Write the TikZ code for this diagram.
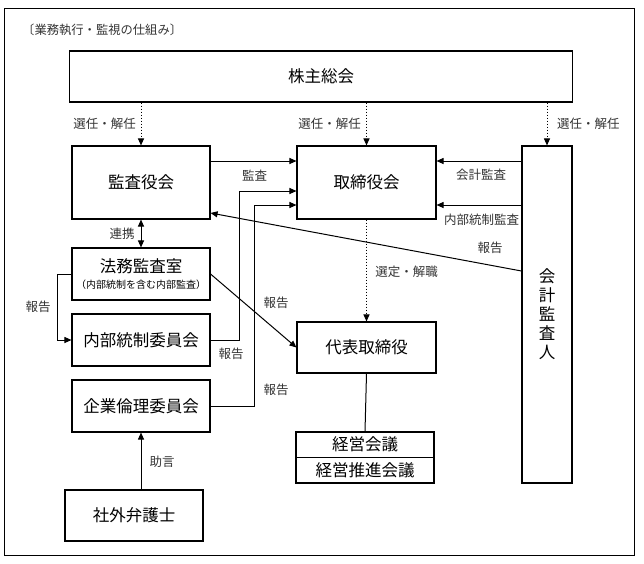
\documentclass[tikz,border=0pt]{standalone}
\usepackage{fontspec}
\setmainfont{Noto Sans CJK JP}
\usetikzlibrary{arrows.meta}
\begin{document}
\begin{tikzpicture}[x=1pt,y=-1pt,
 box/.style={draw,line width=1.1pt,inner sep=0pt,font=\fontsize{16.5}{19}\selectfont,align=center},
 lbl/.style={font=\fontsize{12.5}{14}\selectfont,text=black!80,inner sep=0pt},
 arr/.style={line width=1pt,-{Triangle[length=7pt,width=6pt]}},
 darr/.style={line width=1pt,dotted,-{Triangle[length=7pt,width=6pt]}},
 dbl/.style={line width=1pt,{Triangle[length=7pt,width=6pt]}-{Triangle[length=7pt,width=6pt]}},
 plain/.style={line width=1pt}]
\useasboundingbox (0,0) rectangle (644,563);
\draw[line width=1pt] (4,8) rectangle (634,555);
\node[lbl,anchor=west,font=\fontsize{12.3}{14}\selectfont] (title) at (22,30) {〔業務執行・監視の仕組み〕};

\node[box,minimum width=503pt,minimum height=51pt] (gm) at (321,76.5) {株主総会};
\node[box,minimum width=138pt,minimum height=73pt] (kansa) at (141,182.5) {監査役会};
\node[box,minimum width=139pt,minimum height=73pt] (tori) at (366.5,182.5) {取締役会};
\node[box,minimum width=50pt,minimum height=337pt] (kaikei) at (547,314.5) {会\\計\\監\\査\\人};
\node[box,minimum width=138pt,minimum height=52pt] (houmu) at (141,274) {法務監査室\\[-3pt]{\fontsize{10}{11}\selectfont （内部統制を含む内部監査）}};
\node[box,minimum width=138pt,minimum height=52pt] (naibu) at (141,340) {内部統制委員会};
\node[box,minimum width=138pt,minimum height=52pt] (kigyo) at (141,406) {企業倫理委員会};
\node[box,minimum width=138pt,minimum height=51pt] (shagai) at (134,515.5) {社外弁護士};
\node[box,minimum width=139pt,minimum height=51pt] (daihyo) at (366.5,347.5) {代表取締役};
\node[box,minimum width=138pt,minimum height=25.5pt] (keiei) at (365,444.75) {経営会議};
\node[box,minimum width=138pt,minimum height=25.5pt] (keiei2) at (365,470.25) {経営推進会議};

% selection arrows
\draw[darr] (gm.south -| kansa.north) -- (kansa.north);
\draw[darr] (gm.south -| tori.north) -- (tori.north);
\draw[darr] (gm.south -| kaikei.north) -- (kaikei.north);
\node[lbl,anchor=east] (l1) at (136,124) {選任・解任};
\node[lbl,anchor=east] (l2) at (361,124) {選任・解任};
\node[lbl,anchor=west] (l3) at (557,124) {選任・解任};

% audit
\draw[arr] ([yshift=21.5pt]kansa.east) -- ([yshift=21.5pt]tori.west);
\node[lbl] (l4) at (254.5,176) {監査};
\draw[arr] (naibu.east) -- ++(29,0) |- ([yshift=-8.5pt]tori.west);
\draw[arr] (kigyo.east) -- ++(44,0) |- ([yshift=-22.5pt]tori.west);

\coordinate (t1) at ([yshift=21.5pt]tori.east);
\coordinate (t2) at ([yshift=-22.5pt]tori.east);
\draw[arr] (t1 -| kaikei.west) -- (t1);
\draw[arr] (t2 -| kaikei.west) -- (t2);
\node[lbl] (l5) at (481,175) {会計監査};
\node[lbl] (l6) at (481.5,220) {内部統制監査};

\coordinate (k3) at ([yshift=43.5pt]kaikei.west);
\coordinate (m3) at ([yshift=-30.5pt]kansa.east);
\draw[arr] (k3) -- (m3);
\node[lbl] (l7) at (490,248) {報告};

\draw[darr] (tori.south) -- (daihyo.north);
\node[lbl] (l8) at (406.5,272) {選定・解職};
\draw[plain] (daihyo.south) -- (keiei.north);

\draw[dbl] (kansa.south) -- (houmu.north);
\node[lbl] (l9) at (122,234) {連携};

\draw[arr] (houmu.east) -- (daihyo.west);
\node[lbl] (l10) at (276,303) {報告};

\draw[arr] (houmu.west) -- ++(-14,0) |- (naibu.west);
\node[lbl] (l11) at (38,307) {報告};
\node[lbl] (l12) at (231,354) {報告};
\node[lbl] (l13) at (276,390) {報告};

\draw[arr] (shagai.north -| kigyo.south) -- (kigyo.south);
\node[lbl] (l14) at (162,462) {助言};
\end{tikzpicture}
\end{document}
